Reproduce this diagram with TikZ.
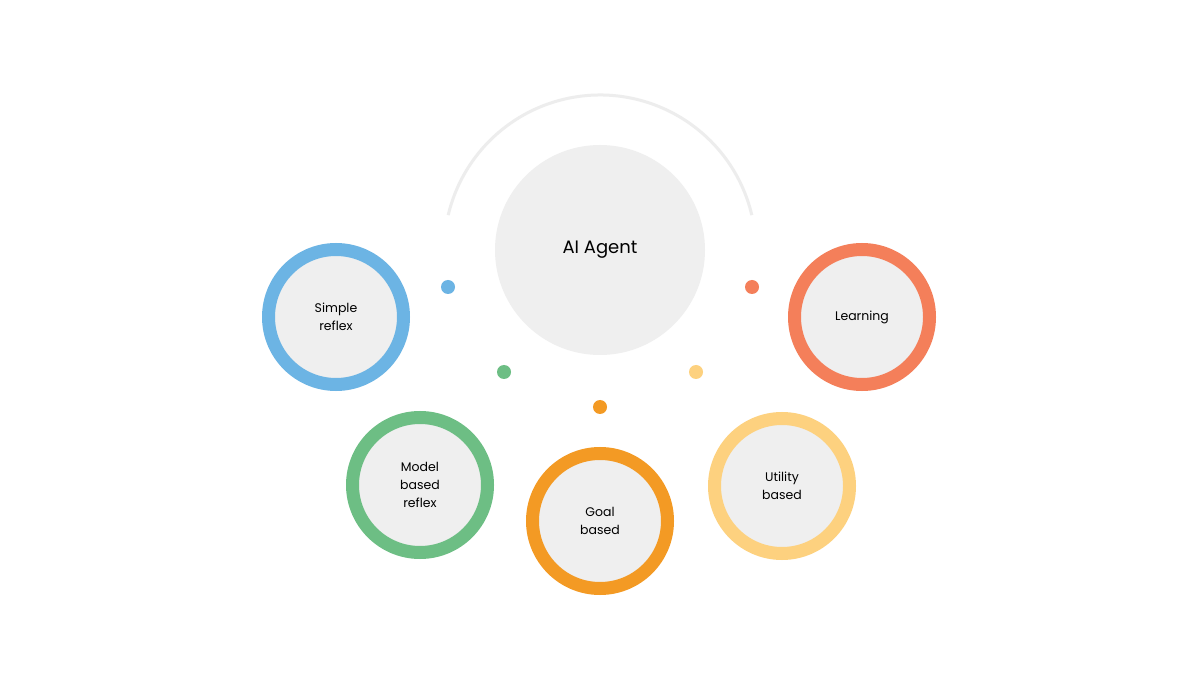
\documentclass[tikz,border=0pt]{standalone}
\usepackage{fontspec}
\setmainfont{Poppins}
\definecolor{cb}{HTML}{6CB4E4}
\definecolor{cg}{HTML}{6DBE84}
\definecolor{co}{HTML}{F39A24}
\definecolor{cy}{HTML}{FDD17F}
\definecolor{cr}{HTML}{F47F5A}
\definecolor{fillg}{HTML}{EFEFEF}
\definecolor{arcg}{HTML}{EDEDED}
\begin{document}
\begin{tikzpicture}[x=1pt,y=-1pt,
 ring/.style={circle,draw=#1,line width=13pt,fill=fillg,minimum size=135pt,inner sep=0pt,align=center,font=\fontsize{12.5pt}{18pt}\selectfont},
 dot/.style={circle,fill=#1,minimum size=14pt,inner sep=0pt}]
\useasboundingbox (0,0) rectangle (1200,700);
\fill[white] (0,0) rectangle (1200,700);
\node[circle,fill=fillg,minimum size=210pt,inner sep=0pt,font=\fontsize{18pt}{22pt}\selectfont] (ai) at (600,250) {AI Agent};
\coordinate (ac) at (600,251);
\draw[arcg,line width=3pt] (ac) ++(193.3:-156 and 156) arc[start angle=166.7,end angle=13.3,radius=-156];
\node[dot=cb] (d1) at (448,287) {};
\node[dot=cg] (d2) at (504,372) {};
\node[dot=co] (d3) at (600,407) {};
\node[dot=cy] (d4) at (696,372) {};
\node[dot=cr] (d5) at (752,287) {};
\node[ring=cb] (sr) at (336,317) {Simple\\reflex};
\node[ring=cg] (mb) at (420,485) {Model\\based\\reflex};
\node[ring=co] (gb) at (600,521) {Goal\\based};
\node[ring=cy] (ub) at (782,486) {Utility\\based};
\node[ring=cr] (le) at (862,317) {Learning};
\end{tikzpicture}
\end{document}
